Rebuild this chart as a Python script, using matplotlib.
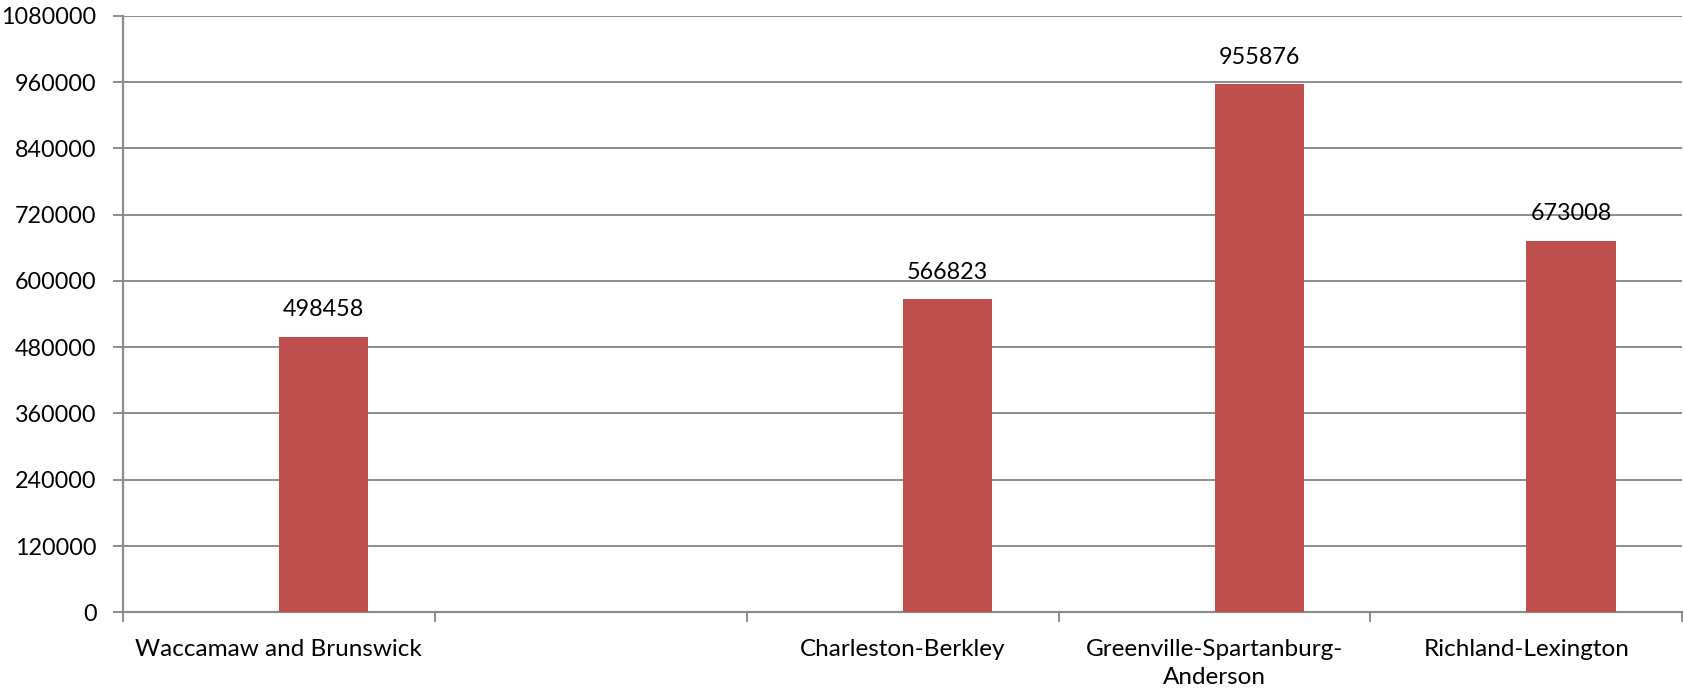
import matplotlib

matplotlib.use("Agg")

import matplotlib.pyplot as plt
import numpy as np

categories = [
    "Waccamaw and Brunswick",
    "",
    "Charleston-Berkley",
    "Greenville-Spartanburg-\nAnderson",
    "Richland-Lexington",
]
values = [498458, np.nan, 566823, 955876, 673008]
y_ticks = list(range(0, 1080001, 120000))

BAR_COLOR = "#C0504D"
GRID_COLOR = "#8C8C8C"
BAR_WIDTH = 0.286

plt.rcParams["font.family"] = ["Lato", "DejaVu Sans"]

fig = plt.figure(figsize=(16.84, 6.88), dpi=100)
ax = fig.add_axes([0.073, 0.110, 0.926, 0.867])

x = np.arange(len(categories))
heights = np.nan_to_num(np.array(values, dtype=float))
# excel-style clustered slot: the visible series sits in the right half
bar_x = x + BAR_WIDTH / 2
ax.bar(bar_x, heights, width=BAR_WIDTH, color=BAR_COLOR, zorder=3)

for bx, v in zip(bar_x, values):
    if np.isnan(v):
        continue
    ax.annotate(
        f"{int(v)}",
        xy=(bx, v),
        xytext=(0, 12),
        textcoords="offset points",
        ha="center",
        va="bottom",
        fontsize=16.8,
    )

ax.set_xlim(-0.5, len(categories) - 0.5)
ax.set_ylim(0, 1080000)
ax.set_yticks(y_ticks)
ax.set_yticklabels([str(t) for t in y_ticks], fontsize=16.8)
ax.yaxis.grid(True, color=GRID_COLOR, linewidth=1.4, zorder=0)

ax.set_xticks(x)
ax.set_xticklabels(categories, fontsize=17.5, linespacing=1.4)
ax.set_xticks(np.arange(-0.5, len(categories)), minor=True)
ax.tick_params(axis="x", which="major", length=0, pad=19)
ax.tick_params(axis="x", which="minor", length=7, width=1.4, color=GRID_COLOR, direction="out")
ax.tick_params(axis="y", length=7, width=1.4, color=GRID_COLOR, pad=12)

for side in ("top", "right"):
    ax.spines[side].set_visible(False)
for side in ("left", "bottom"):
    ax.spines[side].set_color(GRID_COLOR)
    ax.spines[side].set_linewidth(1.6)

fig.savefig("out.png", dpi=100)
plt.close(fig)
